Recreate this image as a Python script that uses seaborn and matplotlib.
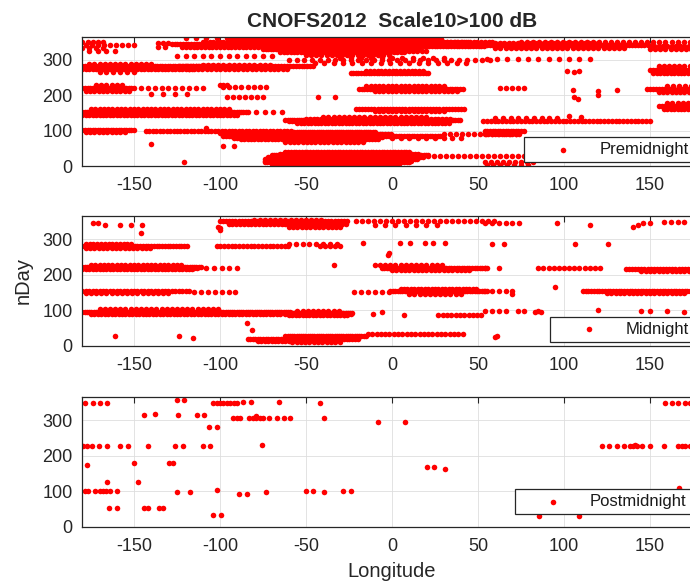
import numpy as np
import pandas as pd
import matplotlib
matplotlib.use("Agg")
import matplotlib.pyplot as plt
import seaborn as sns

# runs of passes: (nDay, lon_start, lon_end, lon_step)
pre_runs = [
    # top band
    (352, -180, -166, 3), (343, -178, -150, 3.5), (333, -180, -168, 4),
    (325, -176, -160, 5), (347, -136, -130, 3), (338, -136, -131, 4),
    (345, -128, 75, 1.6), (337, -122, -60, 2.2), (352, -110, 45, 2),
    (359, -95, 30, 2.2), (363, -120, -80, 6), (330, -75, 15, 1.5),
    (322, -65, 8, 2), (340, -60, 55, 1.6), (350, -45, 60, 2.2),
    (315, -50, 0, 3), (355, -60, 10, 1.7), (326, -62, 20, 2.4),
    (343, 55, 150, 1.8), (335, 60, 135, 3), (348, 60, 120, 2.6),
    (352, 75, 180, 3.5), (330, 150, 180, 3), (340, 150, 180, 2.5),
    # ~280
    (310, -125, -70, 5), (282, -180, -100, 1.5), (274, -180, -115, 2),
    (290, -176, -140, 3), (266, -170, -150, 4), (278, -178, -120, 1.8),
    (282, -124, -45, 1.7), (274, -118, -60, 2.6), (287, -110, -70, 3),
    (300, -60, 60, 4.5), (292, -45, 45, 5.5), (305, -30, 30, 6),
    (263, -24, 22, 1.5), (269, -15, 18, 2.2), (303, 55, 115, 6),
    (273, 150, 180, 1.6), (263, 152, 180, 2), (282, 155, 180, 3),
    (268, 152, 180, 2.3),
    # ~220
    (222, -180, -150, 1.5), (212, -178, -152, 2.5), (228, -172, -155, 3),
    (218, -178, -155, 2), (220, -146, -110, 4), (205, -140, -115, 7),
    (223, -98, -72, 3.5), (194, -96, -75, 3.5), (228, -100, -96, 2),
    (218, -19, 42, 1.5), (225, -15, 30, 2.5), (212, -10, 38, 2.5),
    (220, 63, 80, 3.5), (218, 148, 180, 1.8), (210, 155, 180, 2.5),
    (226, 160, 180, 3.5),
    # ~150
    (152, -180, -84, 1.3), (145, -180, -90, 2), (160, -175, -95, 2.5),
    (148, -178, -100, 1.8), (156, -170, -110, 2.2),
    (152, -84, -60, 5), (162, -21, 42, 1.8), (157, -10, 30, 2.5),
    (130, -62, 40, 1.3), (123, -55, 33, 2), (138, -40, 20, 3),
    (126, -60, 30, 1.7), (134, -50, 35, 2.2),
    (170, 155, 180, 2), (160, 158, 180, 2), (178, 160, 180, 3),
    (128, 53, 150, 2.2), (136, 60, 100, 4.5),
    # ~100
    (102, -180, -150, 1.5), (96, -178, -155, 2.5), (100, -143, -59, 2),
    (85, -98, -59, 1.5), (75, -88, -59, 2), (92, -100, -60, 2.5),
    (80, -92, -60, 1.8), (96, -62, -10, 1.3), (86, -62, 30, 1.5),
    (76, -62, -8, 1.8), (67, -62, -15, 2.5), (91, -60, 0, 1.6),
    (81, -60, -5, 1.7), (90, 30, 75, 3.5), (80, 0, 40, 5),
    (100, 54, 77, 1.5), (90, 54, 75, 2),
    # bottom
    (40, -62, 11, 1.6), (30, -70, 21, 1.3), (20, -74, 15, 1.3),
    (10, -74, 10, 1.5), (3, -68, 0, 2), (35, -65, 15, 1.7),
    (25, -72, 18, 1.5), (15, -74, 12, 1.6), (6, -70, 5, 1.8),
    (28, 21, 85, 3.5), (12, 54, 83, 3.5), (4, 55, 80, 4),
]
pre_points = [
    (270, 102), (265, 106), (270, 109), (215, 105), (213, 120), (215, 131),
    (195, 106), (190, 108), (200, 120), (195, -43), (196, -33),
    (142, 103), (140, 110), (62, -140), (12, -121), (108, -108),
    (58, -98), (58, -92),
]

mid_runs = [
    # top
    (350, -100, -25, 1.8), (342, -95, -25, 2.2), (333, -60, -30, 2.5),
    (355, -80, -40, 3), (346, -65, -28, 1.7), (350, -21, 60, 3.5),
    (340, -10, 30, 6), (345, 54, 77, 4), (348, 158, 172, 4),
    # ~280
    (281, -180, -118, 1.6), (275, -178, -140, 2.5), (286, -178, -150, 2.2),
    (280, -102, -60, 2.2), (285, -60, -31, 4), (280, -42, -30, 3),
    # ~220
    (222, -180, -110, 1.3), (215, -180, -115, 2), (228, -175, -122, 2.5),
    (218, -178, -112, 1.7), (220, -108, -88, 4.5), (220, -6, 56, 1.5),
    (213, 0, 45, 2.5), (226, -10, 30, 3), (218, 85, 122, 3),
    (215, 136, 180, 1.8), (209, 145, 180, 2.5),
    # ~150
    (155, -180, -117, 2), (148, -178, -130, 3), (152, -115, -91, 4),
    (152, -22, -2, 4), (153, -1, 56, 1.4), (159, 5, 50, 2),
    (146, 10, 40, 3), (155, 54, 70, 4), (155, 111, 180, 1.6),
    (149, 125, 170, 2.5),
    # ~95
    (96, -180, -59, 1.3), (90, -175, -65, 2), (102, -170, -100, 3),
    (92, -62, -22, 1.3), (85, -60, -25, 2), (99, -55, -30, 3),
    (88, -62, -30, 1.7), (86, 27, 53, 2.5), (97, 54, 66, 4),
    # bottom
    (20, -84, -59, 1.5), (12, -78, -59, 2), (28, -62, -14, 1.3),
    (18, -60, -20, 1.6), (10, -58, -30, 2.5), (23, -60, -25, 1.7),
    (32, -14, 42, 2.5),
]
mid_points = [
    (345, -173.7), (345, -170.8), (339, -167), (339, -158), (341, -152),
    (339, -145.5), (317, -146), (330, -100), (325, -100), (335, -101),
    (345, 95.7), (340, 115), (335, 140), (340, 143), (345, 146), (345, 150),
    (289, -16.7), (289, 4.7), (289, 10.5), (289, 19.2), (289, 23.7),
    (289, 30.8), (285, 58), (285, 65.1), (285, 106.4), (285, 125.7),
    (262, -1.5), (255, -2.2), (227, -34), (218, 54), (218, 62),
    (165, 95), (145, 70),
    (86, -28), (88, -24), (90, -11), (95, -6), (86, 7), (97, 73), (97, 77),
    (95, 83), (97, 85), (95, 86.7), (100, 120), (97, 145), (97, 150),
    (99, 160), (96, 170),
    (26, -161), (28, -124), (21, -115.5), (64, -84.5), (45, -81.6),
    (28, 61), (24, 60),
]

post_points = [
    (349, -178.5), (349, -174), (349, -170), (349, -165.5),
    (357, -125.2), (357, -120.8), (353, -86.4), (353, -82), (353, -65.5),
    (349, -104), (349, -102), (349, -100), (349, -98), (349, -96),
    (349, -94), (349, -92), (349, -90), (349, -42),
    (316, -144.2), (318, -137.8), (314, -124.2), (314, -113.5), (314, -109.3),
    (306, -92.3), (306, -90.3), (306, -88.4), (306, -83), (306, -81),
    (306, -79), (306, -77), (306, -75), (306, -71.3), (306, -67),
    (306, -62.8), (306, -59.3), (306, -39.4), (312, -79),
    (280, -106.2), (280, -101.9),
    (227, -179.8), (227, -177.1), (227, -174.6), (227, -170.2), (227, -165.9),
    (227, -158.1), (227, -153.7), (227, -142), (227, -126.2), (227, -121.7),
    (227, -110.1), (227, -105.8), (230, -75.8),
    (180, -149.8), (180, -129.5), (180, -127.1), (173, -177.5),
    (126, -165.9), (126, -147.5),
    (100, -178.5), (100, -176.6), (100, -172.7), (100, -169.8), (100, -168),
    (100, -166), (100, -164), (100, -160), (98, -125.2), (98, -117.4),
    (103, -101.9), (92, -88.8), (92, -84.5), (97, -73.4),
    (100, -50), (100, -45.8), (98, -39.4), (100, -28.3), (100, -24),
    (52, -164.3), (52, -159.7), (52, -144.2), (52, -141.7), (52, -135.3),
    (52, -133), (33, -103.9), (33, -99.4),
    (349, 158.7), (349, 162.6), (349, 166.5), (349, 170.3), (349, 173.3),
    (349, 176.5), (349, 179.5),
    (295, -8.3), (295, 7.7),
    (228, 121.9), (228, 126.3), (228, 130.6), (228, 134.9), (228, 138.4),
    (229, 140.3), (230, 141.3), (228, 142.3), (228, 145.2), (228, 150),
    (228, 158.3), (228, 166.5), (228, 168.5), (228, 170.5), (228, 173.3),
    (228, 176), (228, 179),
    (167, 20.5), (167, 24.6), (162, 30.8), (30, 85.5), (30, 108.9),
    (110, 167),
]

panel_names = ["Premidnight", "Midnight", "Postmidnight"]
xticks = [-150, -100, -50, 0, 50, 100, 150]
yticks = [0, 100, 200, 300]


def to_frame(runs, points):
    lon, day = [], []
    for d, a, b, step in runs:
        xs = np.arange(a, b + 0.01, step)
        lon.extend(xs)
        day.extend([d] * len(xs))
    for d, x in points:
        lon.append(x)
        day.append(d)
    return pd.DataFrame({"Longitude": lon, "nDay": day})


frames = [to_frame(pre_runs, pre_points),
          to_frame(mid_runs, mid_points),
          to_frame([], post_points)]

sns.set_theme(style="white")
plt.rcParams["font.family"] = ["Liberation Sans", "DejaVu Sans"]
plt.rcParams["axes.unicode_minus"] = False

fig = plt.figure(figsize=(6.9, 5.83), dpi=100)
W, H = 690.0, 583.0
left, right = 82.4, 701.6
tops = [37.0, 216.0, 397.3]
bottoms = [166.0, 345.7, 526.7]
leg_anchor = [(1 - 8 / 619, 4 / 129), (1 - 8 / 619, 4 / 129), (1 - 10 / 619, 12.7 / 129)]

axes = []
for i, df in enumerate(frames):
    ax = fig.add_axes([left / W, 1 - bottoms[i] / H, (right - left) / W,
                       (bottoms[i] - tops[i]) / H])
    sns.scatterplot(data=df, x="Longitude", y="nDay", ax=ax, color="red",
                    s=16, linewidth=0, label=panel_names[i])
    ax.set_xlim(-180, 180)
    ax.set_ylim(0, 365)
    ax.set_xticks(xticks)
    ax.set_yticks(yticks)
    ax.set_axisbelow(True)
    ax.grid(True, color="0.87", linewidth=0.6)
    for sp in ax.spines.values():
        sp.set_color("0.15")
        sp.set_linewidth(0.9)
    ax.tick_params(direction="in", length=4, width=0.8, color="0.15",
                   labelcolor="0.15", labelsize=13, top=True, right=True)
    ax.tick_params(axis="x", pad=8)
    ax.tick_params(axis="y", pad=7)
    ax.set_xlabel("")
    ax.set_ylabel("")
    leg = ax.legend(loc="lower right", bbox_to_anchor=leg_anchor[i],
                    borderaxespad=0, fontsize=12, handlelength=4,
                    handletextpad=0.2, borderpad=0.3, fancybox=False,
                    framealpha=1, edgecolor="0.15", markerscale=1)
    leg.get_frame().set_linewidth(0.9)
    for t in leg.get_texts():
        t.set_color("0.1")
    axes.append(ax)

axes[0].set_title("CNOFS2012  Scale10>100 dB", fontsize=15, fontweight="bold",
                  pad=7)
axes[1].set_ylabel("nDay", fontsize=14.5, color="0.15", labelpad=7)
axes[2].set_xlabel("Longitude", fontsize=14.5, color="0.15", labelpad=5)

fig.savefig("out.png", dpi=100)
